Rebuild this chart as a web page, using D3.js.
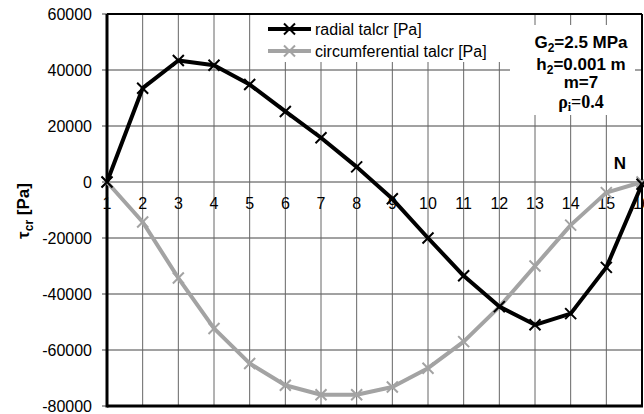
<!DOCTYPE html>
<html>
<head>
<meta charset="UTF-8">
<script src="https://d3js.org/d3.v7.min.js"></script>
<style>
  body { margin: 0; background: #fff; }
  text { font-family: "Liberation Sans", Arial, sans-serif; }
</style>
</head>
<body>
<svg id="chart" width="644" height="414"></svg>
<script>
// chart values
const nodes = [1, 2, 3, 4, 5, 6, 7, 8, 9, 10, 11, 12, 13, 14, 15, 16]
const radial = [0, 33500, 43400, 41700, 34800, 25200, 15800, 5400, -6000, -20000, -33500, -44500, -51000, -47000, -30500, -800]
const circumferential = [0, -14300, -34300, -52300, -64800, -72600, -76000, -76000, -73200, -66500, -57000, -44600, -30000, -15400, -3800, 0]
const yTicks = [60000, 40000, 20000, 0, -20000, -40000, -60000, -80000]
const seriesNames = ["radial talcr [Pa]", "circumferential talcr [Pa]"]
const seriesColors = ["#000000", "#a3a3a3"]

const svg = d3.select("#chart")
const plotL = 107, plotR = 642, plotT = 14, plotB = 406

const x = d3.scalePoint().domain(nodes).range([plotL, plotR])
const y = d3.scaleLinear().domain([-80000, 60000]).range([plotB, plotT])

// gridlines
svg.append("g").selectAll("line").data(yTicks).join("line")
  .attr("x1", plotL - 5).attr("x2", plotR)
  .attr("y1", d => y(d)).attr("y2", d => y(d))
  .attr("stroke", "#444").attr("stroke-width", 1)
svg.append("g").selectAll("line").data(nodes.slice(1)).join("line")
  .attr("x1", d => x(d)).attr("x2", d => x(d))
  .attr("y1", plotT).attr("y2", plotB)
  .attr("stroke", "#666").attr("stroke-width", 1)

// y tick labels
svg.append("g").selectAll("text").data(yTicks).join("text")
  .attr("x", 92).attr("y", d => y(d) + 6)
  .attr("text-anchor", "end").attr("font-size", 16)
  .text(d => d)

// x labels along the zero line
svg.append("g").selectAll("text").data(nodes).join("text")
  .attr("x", d => x(d)).attr("y", y(0) + 27)
  .attr("text-anchor", "middle").attr("font-size", 16)
  .text(d => d)

// frame
svg.append("line").attr("x1", plotL).attr("x2", plotR).attr("y1", plotT).attr("y2", plotT)
  .attr("stroke", "#000").attr("stroke-width", 2)
svg.append("line").attr("x1", plotR).attr("x2", plotR).attr("y1", plotT).attr("y2", plotB)
  .attr("stroke", "#000").attr("stroke-width", 2)
svg.append("line").attr("x1", plotL).attr("x2", plotL).attr("y1", plotT).attr("y2", plotB + 1.5)
  .attr("stroke", "#000").attr("stroke-width", 3)
svg.append("line").attr("x1", plotL).attr("x2", plotR + 1).attr("y1", plotB).attr("y2", plotB)
  .attr("stroke", "#000").attr("stroke-width", 3)

// white boxes for legend and note
svg.append("rect").attr("x", 262).attr("y", 15).attr("width", 243).attr("height", 47).attr("fill", "#fff")
svg.append("rect").attr("x", 510).attr("y", 25).attr("width", 125).attr("height", 90).attr("fill", "#fff")

function cross(g, cx, cy, color) {
  const s = 5.5
  g.append("path")
    .attr("d", `M${cx - s},${cy - s}L${cx + s},${cy + s}M${cx - s},${cy + s}L${cx + s},${cy - s}`)
    .attr("stroke", color).attr("stroke-width", 2).attr("fill", "none")
}

const line = d3.line().x((d, i) => x(nodes[i])).y(d => y(d))

const allSeries = [circumferential, radial]
const allColors = [seriesColors[1], seriesColors[0]]
allSeries.forEach((vals, k) => {
  const g = svg.append("g")
  g.append("path").datum(vals).attr("d", line)
    .attr("fill", "none").attr("stroke", allColors[k]).attr("stroke-width", 4)
    .attr("stroke-linejoin", "round")
  vals.forEach((v, i) => cross(g, x(nodes[i]), y(v), allColors[k]))
})

// legend
seriesNames.forEach((name, i) => {
  const ly = 29 + i * 22
  const g = svg.append("g")
  g.append("line").attr("x1", 268).attr("x2", 311).attr("y1", ly).attr("y2", ly)
    .attr("stroke", seriesColors[i]).attr("stroke-width", 4)
  cross(g, 289.5, ly, seriesColors[i])
  g.append("text").attr("x", 315).attr("y", ly + 6).attr("font-size", 16).text(name)
})

// note
const note = svg.append("g").attr("font-weight", "bold").attr("text-anchor", "middle")
let t = note.append("text").attr("x", 581).attr("y", 48).attr("font-size", 17)
t.append("tspan").text("G")
t.append("tspan").attr("font-size", 12).attr("dy", 4).text("2")
t.append("tspan").attr("dy", -4).text("=2.5 MPa")
t = note.append("text").attr("x", 581).attr("y", 70).attr("font-size", 17)
t.append("tspan").text("h")
t.append("tspan").attr("font-size", 12).attr("dy", 4).text("2")
t.append("tspan").attr("dy", -4).text("=0.001 m")
note.append("text").attr("x", 581).attr("y", 88).attr("font-size", 17).text("m=7")
t = note.append("text").attr("x", 581).attr("y", 108).attr("font-size", 18)
  .style("font-family", "'Liberation Serif', 'Times New Roman', serif")
t.append("tspan").text("ρ")
t.append("tspan").attr("font-size", 12).attr("dy", 3).text("i")
t.append("tspan").attr("dy", -3).text("=0.4")

svg.append("text").attr("x", 620).attr("y", 169).attr("font-size", 17)
  .attr("font-weight", "bold").attr("text-anchor", "middle").text("N")

// y axis title
const yt = svg.append("text").attr("transform", "translate(29,211) rotate(-90)")
  .attr("text-anchor", "middle").attr("font-size", 17).attr("font-weight", "bold")
yt.append("tspan").text("τ")
yt.append("tspan").attr("font-size", 12).attr("dy", 4).text("cr")
yt.append("tspan").attr("dy", -4).text(" [Pa]")
</script>
</body>
</html>
